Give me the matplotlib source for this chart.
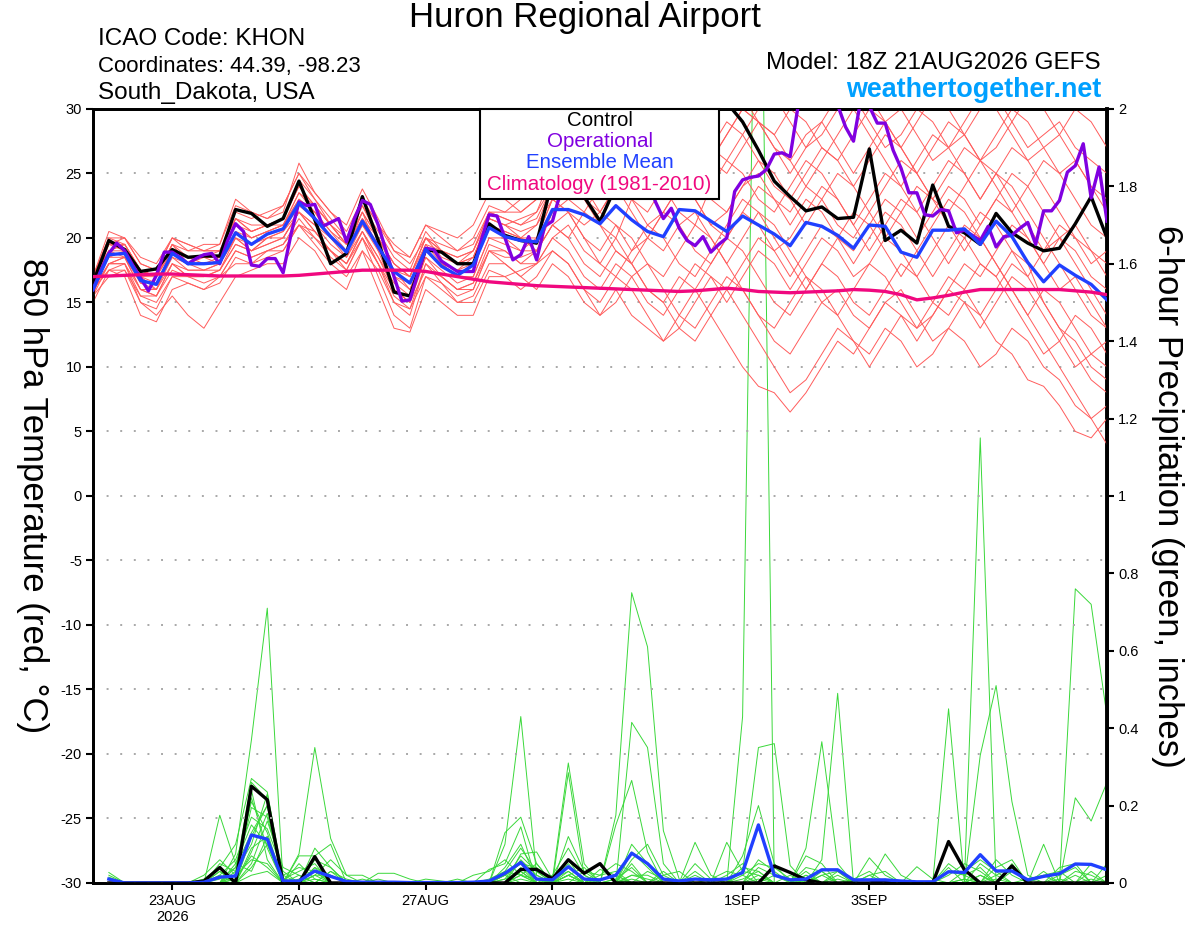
import numpy as np
import pandas as pd
import matplotlib
matplotlib.use('Agg')
import matplotlib.pyplot as plt
from matplotlib.patches import Rectangle

plt.rcParams['font.family'] = ['Liberation Sans', 'DejaVu Sans']

# 850 hPa temperature, 6-hourly from 18Z 21 Aug 2026
temp_control = [16.5, 19.8, 19.1, 17.4, 17.6, 19.1, 18.5, 18.6, 18.6, 22.2,
                21.9, 20.9, 21.5, 24.4, 21.4, 18.0, 18.8, 23.2, 19.8, 15.8,
                15.5, 19.1, 18.9, 18.0, 18.0, 21.1, 20.2, 19.8, 19.6, 24.5,
                24.5, 23.2, 21.3, 24.0, 26.5, 27.0, 26.0, 27.5, 28.5, 29.5,
                30.5, 29.0, 26.8, 24.4, 23.2, 22.1, 22.4, 21.5, 21.6, 26.9,
                19.8, 20.6, 19.6, 24.1, 20.9, 20.4, 19.5, 21.9, 20.4, 19.6,
                19.0, 19.2, 21.1, 23.2, 20.0]
temp_mean = [16.0, 18.7, 18.8, 16.7, 16.4, 18.8, 18.0, 18.0, 18.1, 20.4,
             19.5, 20.3, 20.7, 22.7, 21.5, 20.1, 18.9, 21.3, 19.3, 17.4,
             16.5, 19.1, 17.8, 17.1, 17.9, 20.8, 20.1, 19.8, 19.7, 22.2,
             22.2, 21.8, 21.1, 22.5, 21.4, 20.5, 20.1, 22.2, 22.1, 21.3,
             20.5, 21.7, 21.0, 20.3, 19.4, 21.2, 20.9, 20.2, 19.2, 21.0,
             20.9, 18.9, 18.5, 20.6, 20.6, 20.7, 19.5, 21.3, 20.1, 18.1,
             16.6, 17.9, 17.1, 16.4, 15.2]
temp_clim = [17.0, 17.05, 17.1, 17.15, 17.2, 17.2, 17.15, 17.1, 17.05, 17.05,
             17.05, 17.05, 17.05, 17.1, 17.2, 17.3, 17.4, 17.5, 17.5, 17.5,
             17.5, 17.4, 17.2, 17.0, 16.8, 16.6, 16.5, 16.4, 16.3, 16.25,
             16.2, 16.15, 16.1, 16.05, 16.0, 15.95, 15.9, 15.85, 15.9, 16.0,
             16.1, 16.0, 15.85, 15.8, 15.75, 15.8, 15.85, 15.9, 16.0, 15.95,
             15.85, 15.6, 15.2, 15.35, 15.55, 15.8, 16.0, 16.0, 16.0, 16.0,
             16.0, 16.0, 15.9, 15.8, 15.6]
# operational run is 3-hourly
temp_oper = [16.0, 17.5, 18.8, 19.6, 19.0, 17.9, 16.9, 15.9, 17.1, 18.9,
             18.9, 18.5, 18.0, 18.4, 18.7, 18.8, 18.0, 19.8, 21.1, 20.5,
             17.9, 17.8, 18.4, 18.4, 17.3, 20.3, 22.8, 22.5, 22.6, 20.9,
             21.2, 21.5, 19.7, 21.5, 22.9, 22.6, 21.0, 19.0, 17.0, 15.1,
             15.2, 17.2, 19.2, 19.1, 18.2, 17.8, 17.4, 17.4, 17.4, 19.8,
             21.8, 21.7, 20.0, 18.3, 18.7, 20.1, 18.3, 20.9, 21.3, 23.5,
             24.5, 25.0, 24.2, 25.5, 26.0, 25.2, 24.8, 25.6, 24.5, 24.0,
             24.5, 22.8, 21.5, 22.3, 20.75, 19.8, 19.4, 20.1, 18.9, 19.5,
             20.0, 23.6, 24.5, 24.7, 24.8, 25.3, 26.5, 26.6, 26.3, 30.2,
             31.5, 32.0, 31.5, 31.0, 30.3, 28.6, 27.5, 31.0, 30.2, 28.9,
             28.9, 26.8, 25.4, 23.5, 23.5, 21.8, 21.7, 22.2, 22.1, 20.4,
             20.6, 20.2, 19.8, 20.9, 19.3, 20.1, 20.2, 20.75, 21.2, 19.5,
             22.1, 22.1, 22.9, 25.1, 25.6, 27.3, 23.1, 25.5, 21.3]

red_01 = [16.5, 19.5, 19, 17, 16, 19, 18.5, 18, 18.5, 21, 20, 20.5, 21, 23.5, 22, 20, 19, 22, 19, 16,
          15, 19, 18, 17, 17, 20, 20, 19, 20, 23, 22, 21, 22, 24, 22, 20, 19, 21, 22, 20,
          18, 16, 14, 12, 11, 13, 15, 16, 14, 13, 15, 16, 14, 12, 13, 15, 14, 12, 11, 9,
          8.5, 7, 5, 4.5, 6]
red_02 = [17, 20, 20, 18, 17.5, 20, 19.5, 19, 19, 22, 21.5, 22, 22.5, 25, 23, 21.5, 20, 23, 21, 19,
          18, 20, 19.5, 19, 20, 22.5, 22, 23, 24, 26, 27, 25, 26, 28, 27, 25, 26, 28, 29, 27,
          26, 28, 30, 31, 29, 27, 28, 30, 31, 29, 27, 28, 30, 29, 27, 28, 30, 31, 29, 27,
          28, 29, 27, 26, 25]
red_03 = [16, 18, 18, 15, 14.5, 17, 17, 16.5, 17, 19, 18.5, 19, 19, 21, 20, 18.5, 17.5, 20, 17, 14,
          13, 17, 16, 15, 15.5, 18, 18, 17, 18, 20, 19, 17, 16, 18, 17, 15, 14, 16, 18, 17,
          15, 17, 19, 18, 16, 18, 20, 19, 17, 18, 20, 19, 17, 19, 21, 20, 18, 17, 19, 18,
          15, 13, 12, 10, 9]
red_04 = [15.5, 19, 19.5, 17.5, 17, 19.5, 18, 18.5, 18, 21.5, 20.5, 21, 21.5, 24, 22.5, 21, 19.5, 22.5, 20, 18,
          17, 20, 18.5, 18, 18.5, 21.5, 21, 20, 19, 22, 24, 23, 21, 20, 23, 25, 24, 22, 21, 24,
          26, 25, 23, 22, 24, 26, 25, 23, 21, 23, 25, 24, 22, 24, 26, 25, 23, 25, 27, 26,
          24, 22, 20, 19, 18]
red_05 = [16, 17.5, 17, 14, 13.5, 16, 16.5, 16, 17, 18, 18, 19, 19.5, 21, 20.5, 19, 18, 20.5, 18, 15,
          14, 18, 17, 16, 16, 19, 19, 18, 19, 21, 20, 18, 17, 19, 18, 16, 15, 13, 12, 14,
          16, 14, 12, 10, 8, 9, 11, 13, 12, 10, 12, 14, 13, 15, 17, 16, 14, 16, 18, 17,
          15, 13, 11, 9, 8]
red_06 = [15.5, 17, 17.5, 15, 14, 15.5, 14, 13, 15, 17, 17.5, 18, 18, 20, 19, 17, 16, 19, 16, 13,
          12.7, 16, 15, 14, 14, 17, 17, 16, 17, 19, 18, 16, 15, 17, 16, 14, 12, 13, 15, 17,
          16, 18, 20, 19, 17, 19, 21, 20, 18, 20, 22, 21, 19, 17, 19, 21, 20, 18, 16, 14,
          12, 10, 8, 6, 4]
red_07 = [17, 19.5, 20, 18.5, 18, 20, 19, 19.5, 19.5, 23, 22, 21.5, 22, 25.8, 23.5, 22, 21, 23.8, 21.5, 19,
          18.5, 21, 20, 19, 19.5, 22, 21.5, 21, 22, 25, 26, 24, 23, 25, 27, 26, 24, 23, 25, 27,
          29, 28, 26, 24, 23, 25, 27, 26, 24, 26, 28, 27, 25, 23, 25, 27, 26, 24, 22, 24,
          26, 25, 23, 21, 20]
red_08 = [16.5, 18.5, 19, 16.5, 16.5, 18.5, 17.5, 17.5, 18, 20, 19, 20, 20.5, 22, 21, 20, 19, 21, 19.5, 17,
          16.5, 19.5, 18, 17.5, 18.5, 21, 20, 20, 21, 23, 22, 20, 19, 21, 20, 18, 17, 19, 21, 20,
          18, 20, 22, 21, 19, 17, 15, 14, 16, 18, 17, 15, 13, 14, 16, 18, 17, 19, 21, 20,
          18, 16, 17, 15, 13]
red_09 = [16.5, 19, 18.5, 17, 17, 19, 18.5, 18.5, 18.5, 21, 20, 20.5, 21, 23, 22, 20.5, 19.5, 21.5, 20, 18,
          17, 19.5, 19, 18.5, 19, 22, 22, 22, 23, 25, 24, 23, 25, 27, 26, 28, 30, 29, 27, 26,
          28, 30, 29, 27, 26, 28, 29, 27, 25, 27, 29, 30, 28, 26, 27, 29, 31, 30, 28, 26,
          27, 25, 26, 24, 22]
red_10 = [16, 18.5, 18.5, 16, 15.5, 18, 17, 17, 17.5, 19.5, 19, 19.5, 20, 22, 20.5, 19, 18, 20.5, 18.5, 16.5,
          15.5, 18.5, 17, 16, 16.5, 19.5, 19, 18, 18, 20, 21, 19, 18, 20, 18, 16, 15, 17, 16, 14,
          12, 10, 8.5, 8, 6.5, 8, 10, 12, 11, 13, 15, 14, 12, 14, 16, 15, 13, 15, 17, 16,
          14, 12, 10, 11, 12]
red_11 = [17, 20, 19.5, 17.5, 17, 19.5, 19, 19, 19, 21.5, 21, 21, 21.5, 24.5, 23, 21, 20, 22.5, 20.5, 18.5,
          17.5, 20.5, 19, 18, 19, 21.5, 21, 21.5, 22, 24, 25, 23, 22, 24, 23, 21, 22, 24, 23, 21,
          22, 24, 26, 25, 23, 21, 23, 25, 24, 22, 20, 22, 24, 23, 21, 19, 21, 23, 22, 20,
          18, 20, 19, 17, 16]
red_12 = [15.5, 18, 18.5, 16.5, 16, 18.5, 18, 17.5, 18, 20, 19.5, 20, 20.5, 22.5, 21.5, 20, 18.5, 21, 19, 17.5,
          16, 19, 18, 17, 18, 21, 20.5, 20, 20, 23, 24, 25, 27, 26, 28, 29, 27, 28, 30, 31,
          30, 31, 29, 28, 30, 29, 27, 26, 28, 30, 29, 27, 25, 27, 29, 28, 26, 28, 30, 29,
          27, 28, 30, 29, 27]
red_13 = [16, 17.5, 18, 15.5, 15, 17, 16.5, 16, 16.5, 18.5, 18, 18.5, 19, 21, 19.5, 18, 17, 19, 17.5, 15,
          14.5, 17, 16.5, 15, 15, 17.5, 17, 17.5, 18, 19, 18, 16, 14, 15, 17, 18, 16, 14, 13, 15,
          17, 16, 14, 13, 15, 17, 16, 14, 12, 11, 13, 12, 10, 11, 13, 12, 10, 11, 13, 12,
          10, 9, 7, 6, 7]
red_14 = [17, 19, 19, 17, 16.5, 19, 18, 18, 18, 20.5, 20, 20.5, 21, 23, 22, 20.5, 19, 21.5, 19.5, 17,
          16, 19, 18, 17.5, 18, 21, 20.5, 20, 19.5, 22, 23, 24, 22, 21, 19, 20, 22, 24, 23, 21,
          20, 22, 24, 23, 21, 23, 22, 20, 19, 21, 23, 22, 20, 22, 24, 23, 21, 23, 25, 24,
          22, 20, 21, 19, 17]
red_15 = [16, 18, 18.5, 16, 16, 18, 17.5, 17.5, 17.5, 20, 19, 20, 20, 22, 21, 19.5, 18.5, 20.5, 18.5, 16,
          15, 18.5, 17.5, 16.5, 17, 20, 19.5, 19, 19, 21, 22, 20, 18, 17, 19, 21, 20, 18, 17, 19,
          21, 23, 22, 20, 18, 16, 18, 20, 22, 21, 19, 17, 19, 21, 23, 22, 20, 18, 16, 14,
          16, 15, 13, 11, 10]
red_16 = [17, 20.5, 20, 18, 17.5, 20, 19.5, 19, 19.5, 22.5, 22, 21.5, 22.5, 25, 23.5, 22, 20.5, 23, 21, 19.5,
          18.5, 21, 20.5, 20, 21, 23.5, 23, 22, 23, 26, 25, 27, 28, 26, 25, 27, 29, 30, 28, 26,
          25, 27, 29, 28, 26, 24, 26, 28, 30, 31, 29, 27, 29, 31, 30, 28, 26, 27, 29, 31,
          30, 28, 26, 24, 23]
red_17 = [15, 17.5, 17.5, 15.5, 15.5, 17.5, 17, 17, 17, 19, 18.5, 19, 19.5, 21.5, 20, 19, 17.5, 20, 18, 16,
          15, 17.5, 17, 16, 16.5, 19, 18.5, 18.5, 19, 21, 20, 22, 21, 19, 18, 20, 22, 21, 19, 18,
          20, 19, 17, 15, 14, 16, 18, 17, 15, 14, 16, 18, 17, 15, 14, 16, 18, 17, 15, 13,
          11, 12, 14, 13, 11]
red_18 = [16.5, 19.5, 19.5, 17.5, 17, 19, 18.5, 18.5, 18.5, 21, 20.5, 21, 21, 23.5, 22.5, 21, 19.5, 22, 20, 18,
          17, 20, 19, 18, 18.5, 21.5, 21, 20.5, 21, 24, 23, 22, 24, 25, 23, 22, 24, 26, 25, 23,
          22, 24, 25, 23, 22, 24, 23, 21, 20, 22, 24, 26, 25, 23, 22, 24, 26, 25, 23, 21,
          19, 20, 18, 16, 14]
red_19 = [16, 18, 18, 16, 15.5, 18, 17, 17, 17.5, 19.5, 19, 19.5, 20, 22, 20.5, 19, 18, 20, 18, 15.5,
          14.5, 18, 16.5, 15.5, 16, 19, 18, 17, 16, 18, 17, 15, 14, 16, 14, 13, 12, 14, 16, 18,
          20, 22, 21, 19, 20, 22, 24, 23, 21, 19, 21, 23, 22, 20, 18, 20, 22, 21, 19, 17,
          19, 21, 20, 18, 19]
red_20 = [17, 19, 19.5, 17.5, 17, 19.5, 18.5, 18.5, 19, 21.5, 20.5, 21, 21.5, 24, 22.5, 21, 19.5, 22, 20, 17.5,
          17, 20, 19, 18.5, 19, 22, 21.5, 21, 21.5, 24, 26, 25, 23, 24, 26, 28, 27, 25, 24, 26,
          28, 30, 29, 27, 25, 27, 29, 31, 30, 28, 26, 24, 26, 28, 27, 25, 23, 25, 24, 22,
          20, 18, 16, 14, 13]

# 6-hour precipitation (inches), periods ending 00Z 22 Aug .. 18Z 6 Sep
precip_control = [0, 0, 0, 0, 0, 0, 0.005, 0.04,
                  0, 0.25, 0.215, 0, 0, 0.068, 0, 0,
                  0, 0, 0, 0, 0, 0, 0, 0,
                  0, 0, 0.035, 0.035, 0.011, 0.06, 0.025, 0.05,
                  0, 0, 0, 0, 0, 0, 0, 0,
                  0, 0, 0.044, 0.027, 0.008, 0, 0, 0,
                  0, 0.005, 0, 0, 0, 0.107, 0.034, 0,
                  0, 0.044, 0, 0, 0, 0, 0, 0]
precip_mean = [0.01, 0, 0, 0, 0, 0, 0.002, 0.015,
               0.018, 0.124, 0.113, 0.005, 0.005, 0.031, 0.017, 0.004,
               0.002, 0.002, 0.002, 0.001, 0.001, 0.001, 0.001, 0.002,
               0.005, 0.025, 0.053, 0.01, 0.008, 0.042, 0.01, 0.008,
               0.02, 0.077, 0.05, 0.01, 0.005, 0.01, 0.008, 0.01,
               0.027, 0.15, 0.02, 0.008, 0.01, 0.034, 0.034, 0.008,
               0.008, 0.008, 0.005, 0.003, 0.003, 0.029, 0.027, 0.073,
               0.031, 0.031, 0.008, 0.017, 0.024, 0.049, 0.048, 0.034]

green_01 = [.027, 0, 0, 0, 0, 0, .01, .04, .1, .27, .235, .01, 0, .09, .04, 0,
            0, 0, 0, 0, 0, 0, 0, 0, 0, .13, .17, .05, 0, .12, .03, 0,
            0, .1, .05, 0, 0, 0, 0, 0, .07, .2, .05, 0, .02, 0, 0, 0,
            0, 0, 0, 0, 0, .04, 0, .02, 0, 0, 0, 0, 0, .22, .16, .26]
green_02 = [.015, 0, 0, 0, 0, 0, 0, .175, .05, .03, .12, 0, .075, .35, .115, .02,
            0, 0, 0, 0, 0, 0, 0, 0, 0, 0, .075, .08, .01, .31, .05, 0,
            .175, .75, .61, .135, .01, 0, 0, 0, 0, 0, 0, 0, .09, .365, .05, 0,
            0, 0, 0, 0, 0, 0, 0, 1.15, 0, .05, 0, 0, 0, 0, 0, 0]
green_03 = [0, 0, 0, 0, 0, 0, 0, 0, .075, .37, .71, 0, 0, 0, 0, 0,
            0, 0, 0, 0, 0, 0, 0, 0, 0, .1, .43, .02, 0, 0, 0, 0,
            0, .415, .35, .05, 0, 0, 0, 0, .43, 3.0, 0, 0, 0, 0, 0, 0,
            0, .075, .02, 0, 0, 0, 0, 0, 0, 0, 0, 0, 0, .76, .72, .43]
green_04 = [0, 0, 0, 0, 0, 0, 0, .05, .03, .26, .215, 0, .07, .07, .1, 0,
            0, 0, 0, 0, 0, 0, 0, 0, .035, .05, .145, 0, 0, .285, .02, 0,
            0, 0, 0, 0, 0, .105, .02, 0, 0, 0, 0, 0, 0, .06, .49, 0,
            0, 0, 0, 0, 0, .45, 0, 0, 0, 0, 0, .1, 0, 0, 0, 0]
green_05 = [0, 0, 0, 0, 0, 0, 0, 0, .02, .195, .17, .02, 0, .04, 0, 0,
            0, .025, .025, .01, 0, 0, 0, 0, 0, 0, 0, 0, .005, .05, 0, 0,
            .15, .265, .08, 0, 0, 0, 0, .105, .03, .35, .36, .045, 0, 0, 0, 0,
            0, 0, 0, 0, 0, 0, 0, .33, .51, .21, .02, 0, 0, 0, 0, 0]
green_06 = [0, 0, 0, 0, 0, 0, 0, .03, 0, .12, .2, .01, .03, .05, 0, 0,
            0, 0, 0, 0, 0, 0, 0, 0, 0, .02, .05, .04, 0, .02, 0, 0,
            0, 0, 0, 0, 0, .05, .01, 0, 0, 0, 0, 0, .07, .05, 0, 0,
            .065, .02, 0, 0, 0, 0, .01, 0, .04, .06, 0, 0, .04, .05, 0, 0]
green_07 = [0, 0, 0, 0, 0, 0, 0, 0, .05, .15, .1, 0, 0, .02, .02, 0,
            .01, 0, 0, 0, .01, .005, 0, 0, 0, .03, .09, .03, 0, 0, 0, .035,
            .02, 0, 0, 0, 0, 0, 0, 0, 0, .04, .02, 0, 0, 0, .03, 0,
            0, 0, 0, .042, .01, 0, 0, 0, 0, 0, 0, 0, 0, 0, .05, .03]
green_08 = [0, 0, 0, 0, 0, 0, 0, 0, 0, .08, .18, .02, .04, .03, 0, 0,
            0, 0, 0, 0, 0, 0, 0, .02, .03, .06, .02, 0, 0, .04, .01, 0,
            0, .06, .1, .02, 0, 0, 0, 0, .04, .03, 0, 0, .03, 0, 0, 0,
            0, 0, 0, 0, 0, .03, .02, .04, 0, 0, 0, .03, 0, 0, 0, 0]
green_09 = [0, 0, 0, 0, 0, 0, 0, 0, .04, .21, .13, .005, 0, 0, .03, .01,
            0, 0, 0, 0, 0, 0, .01, 0, 0, 0, .03, 0, .02, .09, .02, 0,
            0, 0, 0, .02, .03, 0, 0, .02, .05, 0, 0, .02, 0, .02, .03, 0,
            0, 0, 0, 0, 0, 0, 0, 0, .06, .02, 0, 0, 0, 0, 0, .05]
green_10 = [0, 0, 0, 0, 0, 0, 0, .02, .06, .17, .14, .03, 0, .06, .04, 0,
            0, 0, 0, 0, 0, 0, 0, 0, 0, 0, .06, .02, 0, 0, 0, .02,
            .05, .03, 0, 0, 0, .02, 0, 0, 0, .06, .03, 0, 0, 0, 0, 0,
            .02, 0, 0, 0, 0, .02, .05, .03, 0, 0, 0, 0, .02, .04, 0, 0]
green_11 = [0, 0, 0, 0, 0, 0, .02, .06, .02, .22, .09, 0, .01, .03, 0, 0,
            0, 0, 0, 0, 0, 0, 0, 0, 0, .04, .1, .01, 0, .06, 0, 0,
            0, .08, .04, 0, 0, 0, .01, .03, .02, 0, 0, 0, .04, .03, 0, 0,
            0, 0, 0, 0, 0, 0, 0, 0, 0, .03, .01, 0, 0, 0, 0, 0]
green_12 = [.02, 0, 0, 0, 0, 0, 0, 0, .03, .1, .23, .01, 0, .02, .06, .02,
            .02, 0, 0, 0, 0, 0, 0, 0, 0, 0, .04, 0, 0, 0, .03, .02,
            .03, 0, 0, 0, 0, 0, 0, 0, .02, .05, .04, .01, 0, 0, 0, 0,
            0, 0, 0, 0, 0, 0, 0, .05, .02, 0, 0, 0, 0, 0, .03, 0]
green_13 = [0, 0, 0, 0, 0, 0, 0, .03, 0, .05, .16, .04, .02, 0, 0, 0,
            0, 0, 0, 0, 0, 0, 0, 0, 0, .02, .05, 0, .01, .03, 0, 0,
            0, .05, 0, .03, 0, 0, 0, 0, 0, 0, 0, 0, .02, 0, .02, 0,
            0, .01, 0, 0, 0, 0, .03, .06, .03, 0, 0, 0, 0, 0, 0, 0]
green_14 = [0, 0, 0, 0, 0, 0, 0, 0, .01, .24, .06, 0, 0, .04, .02, 0,
            0, 0, 0, 0, 0, 0, 0, 0, .01, .03, .02, 0, 0, .02, .04, 0,
            0, .02, .02, 0, 0, 0, 0, 0, .03, .02, 0, 0, 0, 0, 0, .01,
            .03, 0, 0, 0, 0, 0, 0, 0, 0, 0, 0, .02, .03, 0, 0, 0]
green_15 = [0, 0, 0, 0, 0, 0, 0, .01, .04, .13, .2, 0, .05, .01, 0, 0,
            0, .01, 0, 0, 0, 0, 0, 0, 0, .01, .07, .03, 0, .03, 0, 0,
            .01, .04, 0, 0, 0, .03, 0, 0, 0, .01, 0, 0, 0, .03, 0, 0,
            0, 0, 0, 0, 0, .05, .02, 0, 0, 0, 0, 0, 0, .03, .02, 0]
green_16 = [0, 0, 0, 0, 0, 0, 0, 0, 0, .09, .12, .01, 0, 0, .03, 0,
            0, 0, 0, 0, 0, 0, 0, 0, 0, 0, .02, .05, 0, .02, 0, 0,
            0, 0, .03, .01, 0, 0, 0, 0, 0, 0, .02, .01, 0, 0, 0, 0,
            0, 0, 0, 0, 0, 0, 0, 0, .02, .04, 0, 0, 0, 0, 0, .02]
green_17 = [.01, 0, 0, 0, 0, 0, 0, 0, .02, .06, .05, 0, 0, .02, 0, 0,
            0, 0, 0, 0, 0, 0, 0, 0, 0, .01, .03, 0, 0, 0, 0, .01,
            .02, 0, 0, 0, 0, 0, 0, 0, .01, .03, 0, 0, 0, 0, 0, 0,
            .02, .03, 0, 0, 0, 0, 0, 0, 0, 0, .01, .02, 0, 0, 0, 0]
green_18 = [0, 0, 0, 0, 0, 0, 0, .02, 0, .04, .1, 0, .02, 0, 0, 0,
            0, 0, 0, 0, 0, 0, 0, 0, 0, 0, .01, 0, 0, .02, 0, 0,
            0, .02, .01, 0, 0, 0, 0, 0, 0, .02, 0, 0, .01, 0, 0, 0,
            0, 0, 0, 0, 0, 0, 0, .02, 0, 0, 0, 0, 0, .02, 0, 0]
green_19 = [0, 0, 0, 0, 0, 0, 0, 0, .01, .07, .04, 0, 0, .01, 0, 0,
            0, 0, 0, 0, 0, 0, 0, 0, 0, .02, 0, 0, 0, .01, 0, 0,
            .01, 0, 0, 0, 0, 0, 0, 0, 0, 0, 0, 0, 0, .02, 0, 0,
            0, 0, 0, 0, 0, 0, .01, 0, 0, 0, 0, 0, .01, 0, 0, 0]
green_20 = [0, 0, 0, 0, 0, 0, 0, 0, 0, .02, .03, 0, 0, 0, 0, 0,
            0, 0, 0, 0, 0, 0, 0, 0, 0, 0, .02, .01, 0, 0, 0, 0,
            0, .01, 0, 0, 0, 0, 0, 0, 0, 0, 0, 0, 0, 0, .01, 0,
            0, 0, 0, 0, 0, 0, 0, 0, .01, 0, 0, 0, 0, 0, .01, 0]

tick_dates = ['2026-08-23', '2026-08-25', '2026-08-27', '2026-08-29',
              '2026-09-01', '2026-09-03', '2026-09-05']
tick_labels = ['23AUG\n2026', '25AUG', '27AUG', '29AUG', '1SEP', '3SEP', '5SEP']

red_members = [red_01, red_02, red_03, red_04, red_05, red_06, red_07, red_08, red_09, red_10,
               red_11, red_12, red_13, red_14, red_15, red_16, red_17, red_18, red_19, red_20]
green_members = [green_01, green_02, green_03, green_04, green_05, green_06, green_07,
                 green_08, green_09, green_10, green_11, green_12, green_13, green_14,
                 green_15, green_16, green_17, green_18, green_19, green_20]

times = pd.date_range('2026-08-21 18:00', periods=len(temp_control), freq='6h')
times_op = pd.date_range('2026-08-21 18:00', periods=len(temp_oper), freq='3h')
ptimes = times[1:]

fig = plt.figure(figsize=(12, 9.27), dpi=100)
ax = fig.add_axes([0.0775, 0.0475, 0.845, 0.835])
ax2 = ax.twinx()
ax.set_zorder(ax2.get_zorder() + 1)
ax.patch.set_visible(False)

# ensemble spaghetti
for m in red_members:
    ax.plot(times, m, color='#ff5c5c', lw=0.7, zorder=2)
for m in green_members:
    ax2.plot(ptimes, m, color='#3ad83a', lw=0.7, zorder=2)
ax2.plot(ptimes, precip_control, color='black', lw=2.4, zorder=3)
ax2.plot(ptimes, precip_mean, color='#2040ff', lw=2.4, zorder=4)

ax.plot(times, temp_control, color='black', lw=2.4, zorder=4)
ax.plot(times_op, temp_oper, color='#8000e0', lw=2.4, zorder=5)
ax.plot(times, temp_mean, color='#2040ff', lw=2.4, zorder=6)
ax.plot(times, temp_clim, color='#f0087f', lw=2.4, zorder=7)

ax.set_xlim(times[0], times[-1])
ax.set_ylim(-30, 30)
ax.set_yticks(range(-30, 31, 5))
ax.set_yticklabels([str(v) for v in range(-30, 31, 5)])
ax2.set_ylim(0, 2)
rt = [0, 0.2, 0.4, 0.6, 0.8, 1.0, 1.2, 1.4, 1.6, 1.8, 2.0]
ax2.set_yticks(rt)
ax2.set_yticklabels(['0', '0.2', '0.4', '0.6', '0.8', '1', '1.2', '1.4', '1.6', '1.8', '2'])
ax.set_xticks(pd.to_datetime(tick_dates))
ax.set_xticklabels(tick_labels)

ax.yaxis.grid(True, linestyle=(0, (1, 6)), color='#a8a8a8', lw=1.4)
ax.tick_params(axis='both', direction='out', length=5, width=1.5, labelsize=10.5, pad=3)
ax2.tick_params(axis='y', direction='out', length=5, width=1.5, labelsize=10.5, pad=3)
for a in (ax, ax2):
    for s in a.spines.values():
        s.set_linewidth(2)
ax2.spines['right'].set_linewidth(2.8)

ax.set_ylabel('850 hPa Temperature (red, °C)', rotation=270, fontsize=25, va='center')
ax.yaxis.set_label_coords(-0.060, 0.5)
ax2.set_ylabel('6-hour Precipitation (green, inches)', rotation=270, fontsize=25, va='center')
ax2.yaxis.set_label_coords(1.060, 0.5)

# legend box with coloured labels
ax.add_patch(Rectangle((0.3817, 0.8837), 0.2357, 0.1163, transform=ax.transAxes,
                       facecolor='white', edgecolor='black', lw=1.5, zorder=10, clip_on=False))
leg_items = [('Control', 'black', 0.9845), ('Operational', '#8000e0', 0.9574),
             ('Ensemble Mean', '#2040ff', 0.9302), ('Climatology (1981-2010)', '#f0087f', 0.9018)]
for txt, col, yy in leg_items:
    ax.text(0.4996, yy, txt, color=col, fontsize=14.8, ha='center', va='center',
            transform=ax.transAxes, zorder=11)

fig.text(0.4875, 0.9806, 'Huron Regional Airport', ha='center', va='center', fontsize=25)
fig.text(0.0817, 0.9579, 'ICAO Code: KHON', ha='left', va='center', fontsize=17.5)
fig.text(0.0817, 0.9288, 'Coordinates: 44.39, -98.23', ha='left', va='center', fontsize=16)
fig.text(0.0817, 0.8997, 'South_Dakota, USA', ha='left', va='center', fontsize=17.5)
fig.text(0.9175, 0.932, 'Model: 18Z 21AUG2026 GEFS', ha='right', va='center', fontsize=17.5)
fig.text(0.9175, 0.9029, 'weathertogether.net', ha='right', va='center', fontsize=19.4,
         color='#00a0ff', fontweight='bold')

fig.savefig('out.png', dpi=100)
